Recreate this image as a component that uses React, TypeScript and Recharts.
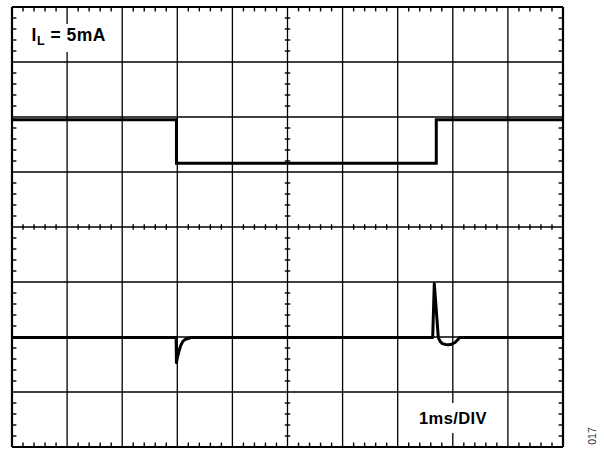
import React from "react";
import { LineChart, Line, XAxis, YAxis, ReferenceLine } from "recharts";

// Time in divisions (1 ms / div), level in divisions (0 = bottom graticule line)
const topT = [0, 2.985, 2.985, 7.7, 7.7, 10];
const topV = [5.95, 5.95, 5.16, 5.16, 5.95, 5.95];

const botT = [0, 2.978, 2.985, 3.0, 3.03, 3.06, 3.1, 3.15, 3.25, 7.635, 7.664, 7.7, 7.737, 7.77, 7.81, 7.87, 7.92, 7.98, 8.04, 8.09, 8.12, 10];
const botV = [1.99, 1.99, 1.53, 1.62, 1.74, 1.84, 1.92, 1.96, 1.99, 1.99, 2.97, 2.49, 1.99, 1.92, 1.88, 1.865, 1.86, 1.87, 1.9, 1.95, 1.99, 1.99];

const gridX = [1, 2, 3, 4, 5, 6, 7, 8, 9];
const gridY = [1, 2, 3, 4, 5, 6, 7];
const frameX = [0, 10];
const frameY = [0, 8];

const titleMain = "I";
const titleSub = "L";
const titleRest = " = 5mA";
const timeBase = "1ms/DIV";
const figNo = "017";

const topData = topT.map((t, i) => ({ t, v: topV[i] }));
const botData = botT.map((t, i) => ({ t, v: botV[i] }));

const minorX: number[] = [];
for (let i = 1; i < 50; i++) if (i % 5 !== 0) minorX.push(i / 5);
const minorY: number[] = [];
for (let i = 1; i < 40; i++) if (i % 5 !== 0) minorY.push(i / 5);

const TX = 0.08; // edge tick length in x-divs
const TY = 0.08; // edge tick length in y-divs
const CX = 0.05;
const CY = 0.05;

export default function App() {
  const tickLines: React.ReactNode[] = [];
  const tk = { stroke: "#000", strokeWidth: 1.4 };
  minorX.forEach((x, i) => {
    tickLines.push(
      <ReferenceLine key={`tt${i}`} segment={[{ x, y: 8 }, { x, y: 8 - TY }]} {...tk} />,
      <ReferenceLine key={`tb${i}`} segment={[{ x, y: 0 }, { x, y: TY }]} {...tk} />,
      <ReferenceLine key={`tc${i}`} segment={[{ x, y: 4 - CY }, { x, y: 4 + CY }]} {...tk} />
    );
  });
  minorY.forEach((y, i) => {
    tickLines.push(
      <ReferenceLine key={`tl${i}`} segment={[{ x: 0, y }, { x: TX, y }]} {...tk} />,
      <ReferenceLine key={`tr${i}`} segment={[{ x: 10, y }, { x: 10 - TX, y }]} {...tk} />,
      <ReferenceLine key={`tm${i}`} segment={[{ x: 5 - CX, y }, { x: 5 + CX, y }]} {...tk} />
    );
  });

  return (
    <div style={{ position: "absolute", left: 0, top: 0, width: 604, height: 450, background: "#fff" }}>
      <div style={{ position: "absolute", left: 0, top: 0 }}>
        <LineChart width={604} height={450} margin={{ top: 7, right: 41, bottom: 3, left: 12 }}>
          <XAxis type="number" dataKey="t" domain={[0, 10]} hide allowDataOverflow />
          <YAxis type="number" dataKey="v" domain={[0, 8]} hide allowDataOverflow />
          {gridX.map((x) => (
            <ReferenceLine key={`gx${x}`} x={x} stroke="#000" strokeWidth={1.3} />
          ))}
          {gridY.map((y) => (
            <ReferenceLine key={`gy${y}`} y={y} stroke="#000" strokeWidth={1.3} />
          ))}
          {tickLines}
          {frameX.map((x) => (
            <ReferenceLine key={`fx${x}`} x={x} stroke="#000" strokeWidth={2.2} />
          ))}
          {frameY.map((y) => (
            <ReferenceLine key={`fy${y}`} y={y} stroke="#000" strokeWidth={2.2} />
          ))}
          <Line data={topData} dataKey="v" type="linear" stroke="#000" strokeWidth={3} dot={false} isAnimationActive={false} strokeLinejoin="miter" />
          <Line data={botData} dataKey="v" type="linear" stroke="#000" strokeWidth={3} dot={false} isAnimationActive={false} strokeLinejoin="round" />
        </LineChart>
      </div>
      <svg width={604} height={450} style={{ position: "absolute", left: 0, top: 0, pointerEvents: "none" }}>
        <rect x={26} y={24} width={86} height={28} fill="#fff" />
        <text x={31.5} y={40.5} fontFamily="Liberation Sans, Arial, sans-serif" fontWeight="bold" fontSize={17.5} fill="#000" letterSpacing={0.5}>
          {titleMain}
          <tspan dy={4} fontSize={12.5}>{titleSub}</tspan>
          <tspan dy={-4}>{titleRest}</tspan>
        </text>
        <rect x={415} y={403} width={77} height={30} fill="#fff" />
        <text x={419} y={424.3} fontFamily="Liberation Sans, Arial, sans-serif" fontWeight="bold" fontSize={16.5} fill="#000" letterSpacing={0.4}>
          {timeBase}
        </text>
        <text transform="translate(596 436) rotate(-90)" textAnchor="middle" fontFamily="Liberation Sans, Arial, sans-serif" fontSize={10.5} fill="#333">
          {figNo}
        </text>
      </svg>
    </div>
  );
}
